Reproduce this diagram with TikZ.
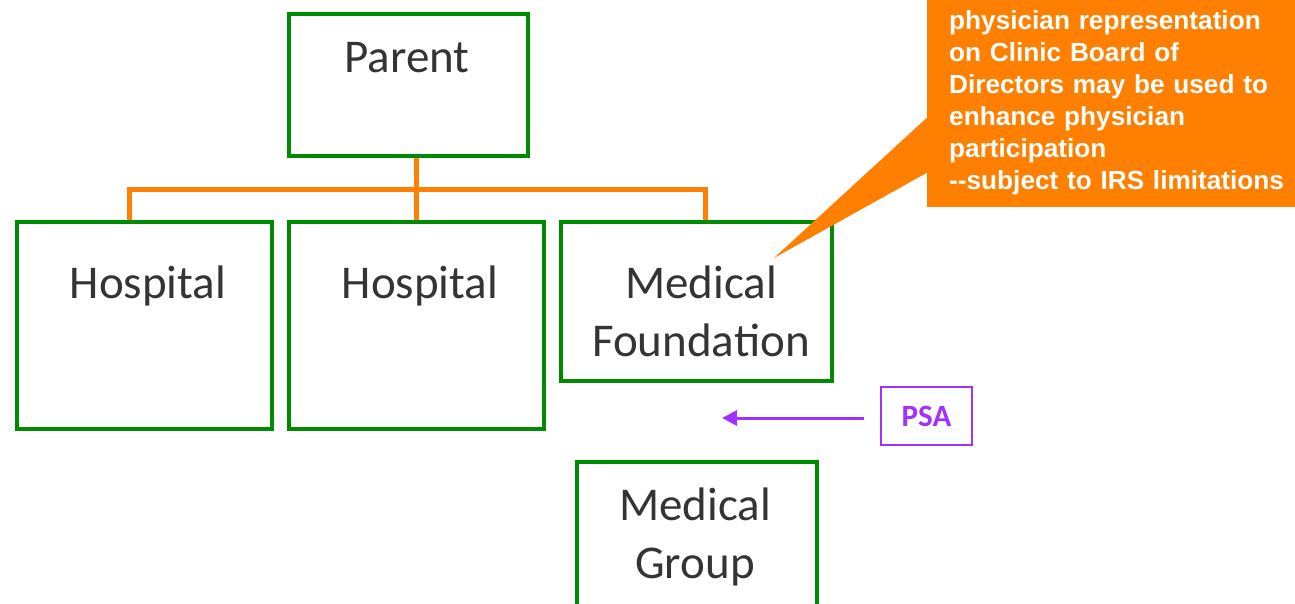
\documentclass[tikz,border=0pt]{standalone}
\usepackage{fontspec}
\setmainfont{Carlito}
\newfontfamily\arialb{Liberation Sans}
\usetikzlibrary{arrows.meta,calc}
\definecolor{boxgreen}{RGB}{0,138,0}
\definecolor{conorange}{RGB}{255,127,0}
\definecolor{psapurple}{RGB}{160,50,255}
\definecolor{txtgray}{RGB}{52,52,52}
\begin{document}
\begin{tikzpicture}[x=1pt,y=-1pt,
  gbox/.style={draw=boxgreen,line width=4.5pt,inner sep=0pt},
  lbl/.style={text=txtgray,font=\fontsize{47}{58}\selectfont,align=center,inner sep=0pt},
  conn/.style={draw=conorange,line width=5pt},
  psabox/.style={draw=psapurple,line width=2pt,inner sep=0pt,minimum width=91pt,minimum height=58pt,
    text=psapurple,font=\fontsize{31}{36}\selectfont\bfseries},
  psaarrow/.style={draw=psapurple,line width=3pt,-{Triangle[length=15pt,width=15pt]}},
  calbox/.style={fill=conorange,inner sep=0pt,minimum width=368pt,minimum height=207pt},
  caltext/.style={text=white,font=\arialb\bfseries\fontsize{26.2}{32}\selectfont,align=left,inner sep=0pt,text width=345pt}
]
\useasboundingbox (0,0) rectangle (1295,604);
\clip (0,0) rectangle (1295,604);

% boxes
\node[gbox,minimum width=239pt,minimum height=142pt] (parent) at (408.5,85) {};
\node[gbox,minimum width=255pt,minimum height=207pt] (h1) at (144.5,325.5) {};
\node[gbox,minimum width=255pt,minimum height=207pt] (h2) at (416.5,325.5) {};
\node[gbox,minimum width=271pt,minimum height=159pt] (mf) at (696.5,301.5) {};
\node[gbox,minimum width=240pt,minimum height=200pt] (mg) at (697,562) {};

% labels
\node[lbl] (tparent) at (407,58) {Parent};
\node[lbl] (th1) at (148,286) {Hospital};
\node[lbl] (th2) at (420,286) {Hospital};
\node[lbl] (tmf) at (701,311) {Medical\\Foundation};
\node[lbl] (tmg) at (695,537) {Medical\\Group};

% connectors
\coordinate (j) at (416.5,190);
\draw[conn] (h2.north) -- (h2.north |- parent.south);
\draw[conn] ([xshift=-15.5pt]h1.north) |- (j) -| ([xshift=8.5pt]mf.north);

% PSA
\node[psabox] (psa) at (926.5,416) {PSA};
\coordinate (psatip) at (722,418);
\draw[psaarrow,shorten <=16pt] (psa.west |- psatip) -- (psatip);

% callout
\node[calbox] (cbox) at (1111,103.5) {};
\coordinate (ptip) at (774,258);
\fill[conorange] ($(cbox.north west)+(0,118)$) -- (ptip) -- ($(cbox.north west)+(0,173)$) -- cycle;
\node[caltext,anchor=north west] (ctext) at (949,10) {physician representation\\on Clinic Board of\\Directors may be used to\\enhance physician\\participation\\--subject to IRS limitations};
\end{tikzpicture}
\end{document}
